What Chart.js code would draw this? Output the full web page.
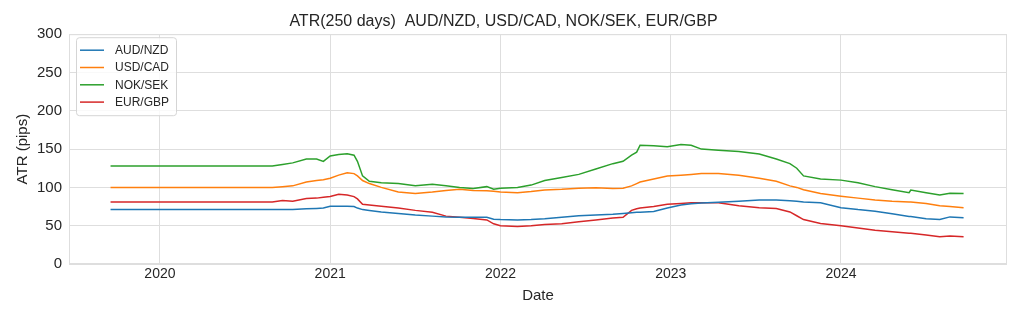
<!DOCTYPE html>
<html>
<head>
<meta charset="utf-8">
<script src="https://cdn.jsdelivr.net/npm/chart.js"></script>
<style>
  html, body { margin: 0; padding: 0; background: #ffffff; }
</style>
</head>
<body>
<canvas id="atrChart" width="1024" height="320"></canvas>
<script>
// sample dates as decimal years, shared by all four series
const dates = [
  2019.71, 2020.00, 2020.30, 2020.66, 2020.72, 2020.78, 2020.86, 2020.92, 2020.96, 2021.00,
  2021.05, 2021.10, 2021.14, 2021.16, 2021.19, 2021.23, 2021.30, 2021.40, 2021.50, 2021.60,
  2021.68, 2021.76, 2021.84, 2021.92, 2021.96, 2022.00, 2022.10, 2022.18, 2022.26, 2022.36,
  2022.46, 2022.56, 2022.66, 2022.72, 2022.77, 2022.80, 2022.82, 2022.90, 2022.98, 2023.06,
  2023.12, 2023.18, 2023.28, 2023.40, 2023.52, 2023.62, 2023.70, 2023.74, 2023.78, 2023.88,
  2024.00, 2024.10, 2024.20, 2024.30, 2024.40, 2024.41, 2024.50, 2024.58, 2024.64, 2024.72
];

const audnzd = [
  71, 71, 71, 71, 71, 71, 72, 72.5, 73, 75.5,
  75.5, 75.5, 75, 73, 71, 70, 68, 66, 64, 62.5,
  61.5, 61, 61, 61, 58.5, 58, 57.5, 58, 59, 61,
  63, 64, 65, 66, 67, 67.5, 67.5, 68.5, 73, 77,
  78.5, 79.5, 80.5, 82, 83.5, 83.5, 82.5, 82, 81, 80,
  73.5, 71, 69, 65.5, 62, 62, 59, 58, 61.5, 60.5
];

const usdcad = [
  100, 100, 100, 100, 101, 102, 107, 109, 110, 112,
  116, 119, 118, 115, 109, 105, 100, 94, 92, 94,
  96, 97.5, 96, 95.5, 95, 94, 93, 94.5, 96.5, 97.5,
  99, 99.5, 98.7, 99, 102, 105, 107, 111, 115, 116,
  117, 118, 118, 116, 112, 108, 102, 100, 97, 92,
  88.5, 86, 83.5, 82, 81, 81, 79, 76, 75, 73.5
];

const noksek = [
  128, 128, 128, 128, 130, 132, 137, 137, 134, 141,
  143, 144, 142, 134, 115, 108, 106, 105, 102, 104,
  102, 100, 98.5, 101, 97.5, 99, 100, 103, 109, 113,
  117, 124, 131, 134, 142, 146, 155, 154.5, 153, 156,
  155, 150, 148.5, 147, 143.5, 137, 131, 125, 115, 111,
  109.5, 106, 101, 97, 93, 96.5, 93, 90, 92.5, 92
];

const eurgbp = [
  81, 81, 81, 81, 83, 82, 85.5, 86, 87, 88,
  91, 90, 88, 85, 78, 77, 75.5, 73, 70, 67.5,
  62.5, 61, 59.5, 57.5, 52.5, 50, 49, 50, 51.5, 52.5,
  55, 57.5, 60, 61, 70, 72, 73, 75, 78, 79,
  80, 80, 80, 76, 73.5, 72.5, 68, 63, 58, 53,
  50, 47, 44, 42, 40, 40, 38, 35.5, 36.5, 35.5
];

const seriesNames = ['AUD/NZD', 'USD/CAD', 'NOK/SEK', 'EUR/GBP'];
const seriesColors = ['#1f77b4', '#ff7f0e', '#2ca02c', '#d62728'];
const yearTicks = [2020, 2021, 2022, 2023, 2024];

const textColor = '#262626';
const gridColor = '#dedede';

Chart.defaults.font.family = "'Liberation Sans', Arial, sans-serif";
Chart.defaults.color = textColor;

function toPoints(values) {
  return dates.map((d, i) => ({ x: d, y: values[i] }));
}

// light frame round the plot area (top and right edges have no ticks)
const frame = {
  id: 'frame',
  beforeDatasetsDraw(chart) {
    const a = chart.chartArea;
    const ctx = chart.ctx;
    ctx.save();
    ctx.strokeStyle = gridColor;
    ctx.lineWidth = 1;
    ctx.strokeRect(a.left + 0.5, a.top + 0.5, a.right - a.left - 1, a.bottom - a.top - 1);
    ctx.restore();
  }
};

// matplotlib style legend box in the upper left corner
const boxLegend = {
  id: 'boxLegend',
  afterDraw(chart) {
    const a = chart.chartArea;
    const ctx = chart.ctx;
    const x0 = a.left + 7, y0 = a.top + 3;
    const w = 100, h = 78;
    ctx.save();
    ctx.beginPath();
    ctx.roundRect(x0 + 0.5, y0 + 0.5, w, h, 3);
    ctx.fillStyle = 'rgba(255,255,255,0.8)';
    ctx.fill();
    ctx.strokeStyle = '#d5d5d5';
    ctx.lineWidth = 1;
    ctx.stroke();
    ctx.font = "12px 'Liberation Sans', Arial, sans-serif";
    ctx.textBaseline = 'middle';
    chart.data.datasets.forEach((ds, i) => {
      const y = y0 + 13 + i * 17.3;
      ctx.strokeStyle = ds.borderColor;
      ctx.lineWidth = 1.5;
      ctx.beginPath();
      ctx.moveTo(x0 + 4, y);
      ctx.lineTo(x0 + 28, y);
      ctx.stroke();
      ctx.fillStyle = textColor;
      ctx.fillText(ds.label, x0 + 39, y + 0.5);
    });
    ctx.restore();
  }
};

const allSeries = [audnzd, usdcad, noksek, eurgbp];

new Chart(document.getElementById('atrChart'), {
  type: 'line',
  data: {
    datasets: allSeries.map((vals, i) => ({
      label: seriesNames[i],
      data: toPoints(vals),
      borderColor: seriesColors[i],
      backgroundColor: seriesColors[i],
      borderWidth: 1.5,
      pointRadius: 0,
      tension: 0,
      fill: false
    }))
  },
  options: {
    responsive: false,
    animation: false,
    devicePixelRatio: 1,
    layout: { padding: { left: 0, right: 17, top: 0, bottom: 0 } },
    plugins: {
      legend: { display: false },
      tooltip: { enabled: false },
      title: {
        display: true,
        text: 'ATR(250 days)  AUD/NZD, USD/CAD, NOK/SEK, EUR/GBP',
        color: textColor,
        font: { size: 16, weight: 'normal' },
        padding: { top: 12, bottom: 3 }
      }
    },
    scales: {
      x: {
        type: 'linear',
        min: 2019.466,
        max: 2024.975,
        afterBuildTicks: s => { s.ticks = yearTicks.map(v => ({ value: v })); },
        afterFit: s => { s.height = 56; },
        ticks: {
          callback: v => String(v),
          font: { size: 14 },
          color: textColor,
          padding: 2,
          maxRotation: 0
        },
        grid: { color: gridColor, drawTicks: false },
        border: { display: false },
        title: {
          display: true,
          text: 'Date',
          color: textColor,
          font: { size: 15 },
          padding: { top: 0, bottom: 15 }
        }
      },
      y: {
        min: 0,
        max: 300,
        afterFit: s => { s.width = 69; },
        ticks: {
          stepSize: 50,
          font: { size: 15 },
          color: textColor,
          padding: 7
        },
        grid: { color: gridColor, drawTicks: false },
        border: { display: false },
        title: {
          display: true,
          text: 'ATR (pips)',
          color: textColor,
          font: { size: 15 },
          padding: { top: 14, bottom: 0 }
        }
      }
    }
  },
  plugins: [frame, boxLegend]
});
</script>
</body>
</html>
